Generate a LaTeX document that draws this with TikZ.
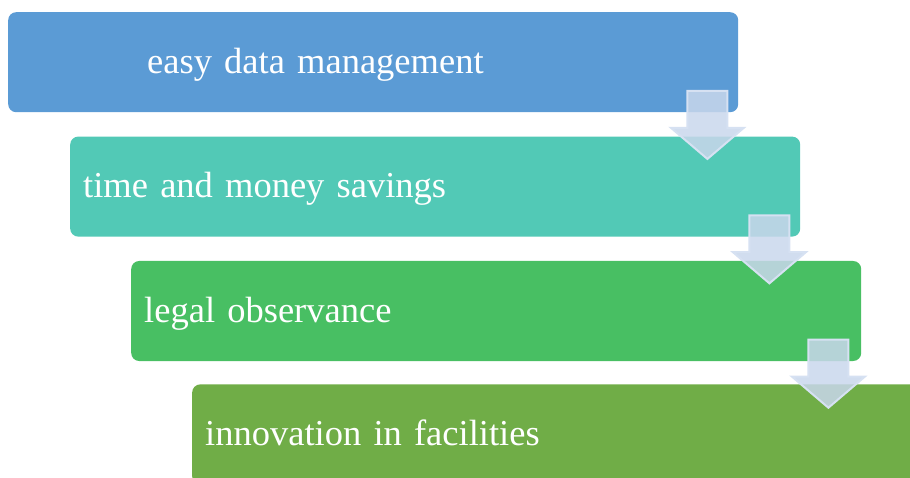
\documentclass[tikz,border=0pt]{standalone}
\usepackage{fontspec}
\setmainfont{Liberation Serif}
\usetikzlibrary{calc}
\usetikzlibrary{shapes.arrows}

\definecolor{stageBlue}{RGB}{91,155,213}
\definecolor{stageTeal}{RGB}{82,201,182}
\definecolor{stageGreen}{RGB}{72,191,99}
\definecolor{stageOlive}{RGB}{112,173,71}
\definecolor{arrowFill}{RGB}{201,215,236}
\definecolor{arrowRim}{RGB}{214,225,242}

\begin{document}
\begin{tikzpicture}[x=1pt,y=1pt]
        \tikzset{
            stage/.style={rounded corners=8pt, anchor=north west, minimum width=730pt, minimum height=100pt,
                text width=704pt, inner xsep=13pt, align=left, text=white,
                font=\fontsize{36.5}{44}\selectfont, text height=30pt, text depth=8pt},
            downarrow/.style={single arrow, shape border rotate=270, inner sep=19pt,
                minimum height=68pt, single arrow head extend=16.5pt,
                single arrow tip angle=99, fill=arrowFill, fill opacity=0.85,
                draw=arrowRim, draw opacity=1, line width=2pt}
        }
        \useasboundingbox (0,0) rectangle (910,477);

        \node[stage, fill=stageBlue] (easy) at (8,465) {\hspace*{126pt}easy data management};
        \node[stage, fill=stageTeal] (savings) at ($(easy.south west)+(62,-24)$) {time and money savings};
        \node[stage, fill=stageGreen] (legal) at ($(savings.south west)+(61,-24)$) {legal observance};
        \node[stage, fill=stageOlive] (innov) at ($(legal.south west)+(61,-23)$) {innovation in facilities};

        % arrows between stages
        \node[downarrow] (easyToSavings) at ($(easy.south east)+(-31,-4)$) {};
        \node[downarrow] (savingsToLegal) at ($(savings.south east)+(-31,-4)$) {};
        \node[downarrow] (legalToInnov) at ($(legal.south east)+(-33,-4)$) {};

    \end{tikzpicture}
\end{document}
